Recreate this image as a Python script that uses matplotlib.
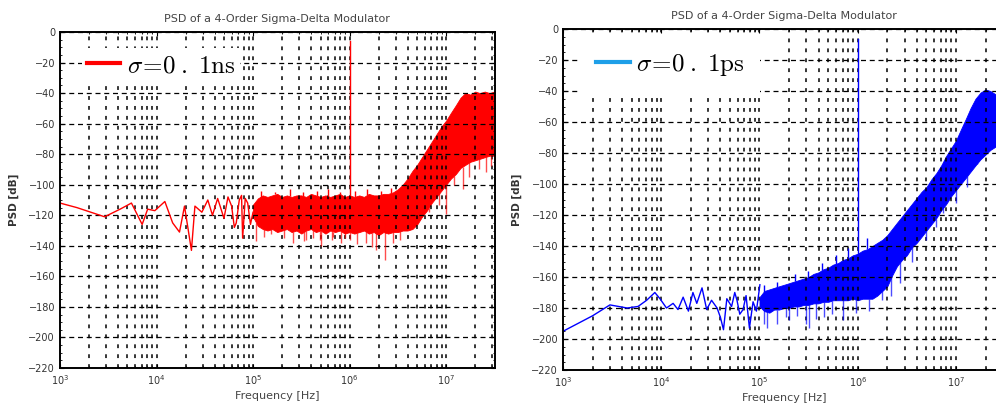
import numpy as np
import matplotlib.pyplot as plt
from matplotlib import ticker
from matplotlib.lines import Line2D

plt.rcParams["font.family"] = ["DejaVu Sans"]

title = "PSD of a 4-Order Sigma-Delta Modulator"
x_ticks = [1e3, 1e4, 1e5, 1e6, 1e7]
x_labels = [r"$\mathregular{10^{3}}$", r"$\mathregular{10^{4}}$", r"$\mathregular{10^{5}}$",
            r"$\mathregular{10^{6}}$", r"$\mathregular{10^{7}}$"]
y_ticks = list(range(-220, 1, 20))

# frequencies of the dense part (shared by both panels)
band_f = [1.00e5, 1.12e5, 1.26e5, 1.41e5, 1.58e5, 1.78e5, 2.00e5, 2.24e5, 2.51e5, 2.82e5,
          3.16e5, 3.55e5, 3.98e5, 4.47e5, 5.01e5, 5.62e5, 6.31e5, 7.08e5, 7.94e5, 8.91e5,
          1.00e6, 1.12e6, 1.26e6, 1.41e6, 1.58e6, 1.78e6, 2.00e6, 2.24e6, 2.51e6, 2.82e6,
          3.16e6, 3.55e6, 3.98e6, 4.47e6, 5.01e6, 5.62e6, 6.31e6, 7.08e6, 7.94e6, 8.91e6,
          1.00e7, 1.12e7, 1.26e7, 1.41e7, 1.58e7, 1.78e7, 2.00e7, 2.24e7, 2.51e7, 2.82e7, 3.16e7]

# sigma = 0.1 ns (left)
red_f = [1e3, 1.5e3, 2.9e3, 4.2e3, 5.5e3, 7.1e3, 8.1e3, 9.6e3, 1.22e4, 1.47e4, 1.73e4, 1.95e4,
         2.3e4, 2.5e4, 2.95e4, 3.4e4, 3.8e4, 4.3e4, 5e4, 5.5e4, 6e4, 6.4e4, 6.7e4, 7.2e4, 7.6e4,
         7.8e4, 8.3e4, 8.8e4, 9.4e4, 1e5]
red_v = [-112, -115, -121, -116, -112, -126, -116, -117, -111, -125, -131, -114,
         -143, -114, -118, -110, -120, -109, -122, -108, -114, -128, -125, -110, -107,
         -135, -109, -112, -126, -118]
red_top = [-113, -109, -107, -108, -107, -106, -108, -107, -108, -107,
           -107, -108, -106, -107, -108, -107, -108, -107, -106, -108,
           -107, -108, -107, -108, -106, -107, -107, -106, -106, -105,
           -103, -100, -96, -91, -87, -82, -77, -72, -67, -62,
           -58, -53, -48, -43, -40, -41, -39, -40, -39, -40, -39]
red_bot = [-121, -127, -129, -130, -129, -131, -130, -129, -131, -130,
           -132, -130, -129, -131, -130, -132, -130, -131, -130, -132,
           -131, -132, -131, -130, -132, -131, -133, -131, -132, -131,
           -131, -130, -130, -129, -126, -121, -117, -112, -108, -104,
           -100, -96, -93, -89, -87, -85, -84, -83, -82, -81, -81]
red_spike_f = [1.08e5, 1.3e5, 1.55e5, 2.1e5, 2.6e5, 3.4e5, 3.55e5, 4.2e5, 4.9e5, 5.1e5, 6.5e5, 6.8e5,
               8.2e5, 9e5, 1.0e6, 1.2e6, 1.48e6, 1.7e6, 1.86e6, 2.3e6, 2.8e6, 3.3e6, 5.6e6, 6.6e6,
               8.5e6, 1.0e7, 1.2e7, 1.48e7, 1.74e7, 2.2e7, 2.6e7, 2.9e7]
red_spike_v = [-137, -134, -132, -135, -138, -137, -136, -135, -136, -140, -136, -134,
               -138, -135, -136, -139, -138, -141, -143, -149, -138, -136, -121, -118,
               -113, -119, -100, -103, -95, -90, -92, -88]
red_peak_f = [1.2e5, 1.7e5, 2.4e5, 3.3e5, 4.6e5, 6e5, 8e5, 1.15e6, 1.5e6, 2.1e6, 2.7e6]
red_peak_v = [-104, -105, -103, -105, -104, -103, -105, -104, -103, -104, -102]
red_tone_f = 1e6
red_tone_v = -6

# sigma = 0.1 ps (right)
blue_f = [1e3, 2e3, 3.0e3, 4.5e3, 5.8e3, 7.1e3, 8.6e3, 9.7e3, 1.13e4, 1.32e4, 1.48e4, 1.67e4, 1.89e4,
          2.1e4, 2.3e4, 2.6e4, 2.9e4, 3.25e4, 3.7e4, 4.0e4, 4.3e4, 4.65e4, 5.2e4, 5.6e4, 5.9e4, 6.3e4,
          6.8e4, 7.3e4, 7.9e4, 8.6e4, 9.3e4, 1.01e5]
blue_v = [-195, -185, -178, -180, -179, -175, -170, -174, -180, -177, -181, -173, -182,
          -170, -177, -167, -181, -175, -180, -186, -194, -174, -179, -170, -175, -184,
          -181, -172, -193, -176, -182, -165]
blue_top = [-173, -169, -168, -167, -166, -165, -164, -163, -162, -161,
            -160, -158, -157, -155, -154, -152, -151, -149, -148, -146,
            -145, -143, -142, -140, -138, -136, -133, -129, -125, -121,
            -117, -113, -109, -105, -102, -97, -93, -88, -82, -77,
            -72, -65, -58, -51, -45, -41, -39, -40, -42, -43, -44]
blue_bot = [-179, -182, -183, -181, -181, -180, -180, -179, -179, -178,
            -178, -177, -177, -176, -176, -175, -175, -175, -175, -174,
            -175, -174, -174, -174, -172, -169, -166, -159, -153, -149,
            -146, -141, -138, -134, -130, -126, -122, -117, -113, -108,
            -104, -100, -96, -92, -88, -84, -81, -78, -76, -75, -74]
blue_spike_f = [1.1e5, 1.2e5, 1.5e5, 1.86e5, 2.0e5, 2.4e5, 3.0e5, 3.2e5, 3.8e5, 4.5e5, 5.5e5,
                7.1e5, 9.5e5, 1.3e6, 1.78e6, 2.2e6, 2.7e6, 3.6e6, 5.0e6, 6.2e6, 7.4e6, 1.0e7,
                1.3e7, 1.62e7, 2.3e7]
blue_spike_v = [-190, -193, -190, -186, -188, -185, -190, -193, -187, -186, -184,
                -188, -183, -182, -175, -172, -164, -150, -136, -128, -119, -112,
                -102, -82, -76]
blue_peak_f = [1.1e5, 1.5e5, 2.3e5, 3.1e5, 4.3e5, 6e5, 8e5, 1.25e6]
blue_peak_v = [-165, -163, -158, -156, -151, -146, -141, -135]
blue_tone_f = 1e6
blue_tone_v = -6.5


def panel(ax, f, v, top, bot, spike_f, spike_v, peak_f, peak_v, tone_f, tone_v,
          color, label, legend_color, anchor, pad):
    ax.plot(f, v, color=color, lw=1.0)
    ax.fill_between(band_f, bot, top, color=color, lw=0.6, edgecolor=color)
    base = np.interp(np.log10(spike_f), np.log10(band_f), bot)
    ax.vlines(spike_f, spike_v, base, color=color, lw=1.0, alpha=0.7)
    base = np.interp(np.log10(peak_f), np.log10(band_f), top)
    ax.vlines(peak_f, base, peak_v, color=color, lw=1.0)
    tone_base = np.interp(np.log10(tone_f), np.log10(band_f), top)
    ax.plot([tone_f, tone_f], [tone_base, tone_v], color=color, lw=1.0)

    ax.set_xscale("log")
    ax.set_xlim(1e3, 3.2e7)
    ax.set_ylim(-220, 0)
    ax.set_xticks(x_ticks, labels=x_labels)
    ax.xaxis.set_minor_locator(ticker.LogLocator(base=10, subs=np.arange(2, 10), numticks=20))
    ax.xaxis.set_minor_formatter(ticker.NullFormatter())
    ax.set_yticks(y_ticks)
    ax.yaxis.set_minor_locator(ticker.MultipleLocator(5))
    ax.tick_params(which="both", direction="in", top=True, right=True, labelsize=7,
                   labelcolor="#333333", length=3)
    ax.tick_params(which="minor", length=1.5)
    ax.grid(True, which="major", axis="y", ls=(0, (4, 3)), color="k", lw=0.9)
    ax.grid(True, which="both", axis="x", ls=(0, (2.5, 4)), color="k", lw=1.1)
    for s in ax.spines.values():
        s.set_linewidth(1.4)
    ax.set_title(title, fontsize=8, color="#444444", pad=7)
    ax.set_xlabel("Frequency [Hz]", fontsize=8, color="#444444", labelpad=3)
    ax.set_ylabel("PSD [dB]", fontsize=7.5, color="#333333", fontweight="bold", labelpad=7)

    handle = Line2D([], [], color=legend_color, lw=3)
    ax.legend([handle], [label], loc="upper left", bbox_to_anchor=anchor, borderaxespad=0,
              prop={"size": 18, "math_fontfamily": "cm"},
              frameon=True, facecolor="white", edgecolor="none", framealpha=1, fancybox=False,
              handlelength=1.35, handletextpad=0.25, borderpad=pad)


fig = plt.figure(figsize=(9.96, 4.15), dpi=100)
ax1 = fig.add_axes([0.0602, 0.1133, 0.4367, 0.8096])
ax2 = fig.add_axes([0.5653, 0.1084, 0.4443, 0.8217])

panel(ax1, red_f, red_v, red_top, red_bot, red_spike_f, red_spike_v, red_peak_f, red_peak_v,
      red_tone_f, red_tone_v, "#ff0000", r"$\sigma\!=\!0\;.\;1\mathrm{ns}$", "#ff0000",
      (0.05, 0.952), 0.2)
panel(ax2, blue_f, blue_v, blue_top, blue_bot, blue_spike_f, blue_spike_v, blue_peak_f, blue_peak_v,
      blue_tone_f, blue_tone_v, "#0000ff", r"$\sigma\!=\!0\;.\;1\mathrm{ps}$", "#1e9fe8",
      (0.041, 0.977), 0.6)

fig.savefig("out.png", dpi=100)
